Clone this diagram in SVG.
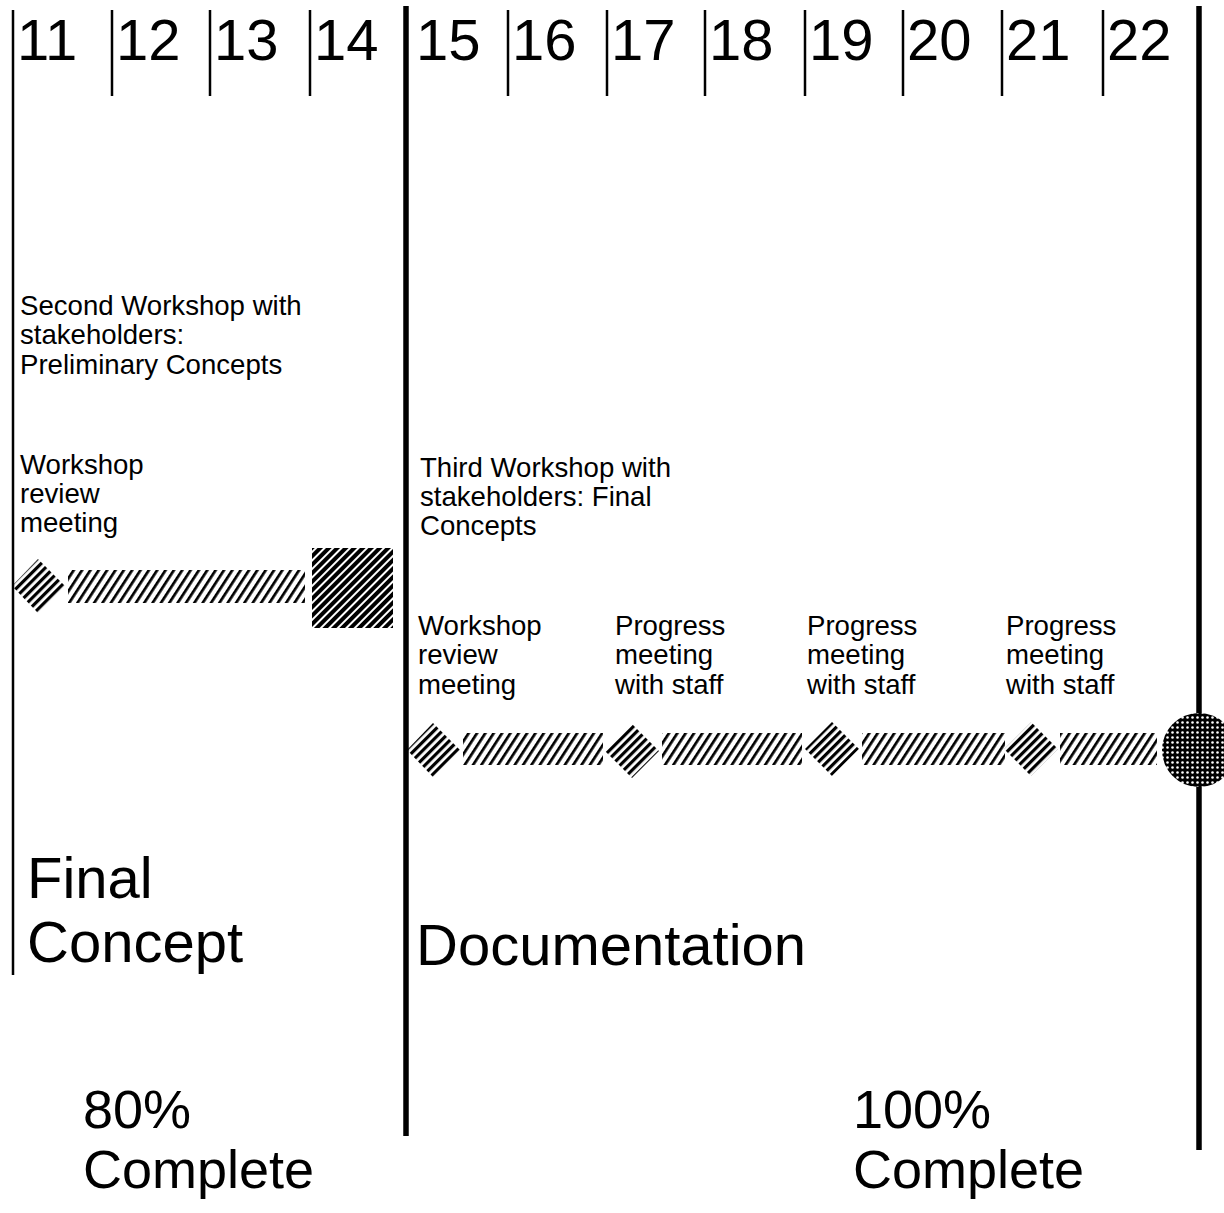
<svg xmlns="http://www.w3.org/2000/svg" width="1224" height="1213" viewBox="0 0 1224 1213">
<defs>
<style>
.t{font-family:"Liberation Sans",Arial,Helvetica,sans-serif;fill:#000}
.num{font-size:58px}
.sm{font-size:27.6px}
.big{font-size:58px}
.pct{font-size:54px}
.tick{stroke:#000;stroke-width:2.5}
.thick{stroke:#000;stroke-width:5.5}
</style>
<pattern id="hBar" width="7" height="8" patternUnits="userSpaceOnUse" patternTransform="rotate(33)">
<rect x="0" y="0" width="2.7" height="8" fill="#000"/>
</pattern>
<pattern id="hDia" width="6" height="6" patternUnits="userSpaceOnUse" patternTransform="rotate(45)">
<rect x="0" y="0" width="3.2" height="6" fill="#000"/>
</pattern>
<pattern id="hSq" width="6" height="6" patternUnits="userSpaceOnUse" patternTransform="rotate(45)">
<rect x="0" y="0" width="4" height="6" fill="#000"/>
</pattern>
<pattern id="dots" width="5" height="5" patternUnits="userSpaceOnUse">
<rect width="5" height="5" fill="#000"/>
<circle cx="2.5" cy="2.5" r="1.3" fill="#fff"/>
</pattern>
</defs>
<rect width="1224" height="1213" fill="#fff"/>

<g id="grid">
<line class="tick" x1="13" y1="10" x2="13" y2="975"/>
<line class="tick" x1="112" y1="10" x2="112" y2="96"/>
<line class="tick" x1="210" y1="10" x2="210" y2="96"/>
<line class="tick" x1="310" y1="10" x2="310" y2="96"/>
<line class="thick" x1="406" y1="6" x2="406" y2="1136"/>
<line class="tick" x1="508" y1="10" x2="508" y2="96"/>
<line class="tick" x1="607" y1="10" x2="607" y2="96"/>
<line class="tick" x1="705" y1="10" x2="705" y2="96"/>
<line class="tick" x1="805" y1="10" x2="805" y2="96"/>
<line class="tick" x1="903" y1="10" x2="903" y2="96"/>
<line class="tick" x1="1002" y1="10" x2="1002" y2="96"/>
<line class="tick" x1="1103" y1="10" x2="1103" y2="96"/>
<line class="thick" x1="1199" y1="6" x2="1199" y2="1150"/>
</g>

<g id="weeks">
<text class="t num" x="17" y="60">11</text>
<text class="t num" x="116" y="60">12</text>
<text class="t num" x="214" y="60">13</text>
<text class="t num" x="314" y="60">14</text>
<text class="t num" x="416" y="60">15</text>
<text class="t num" x="512" y="60">16</text>
<text class="t num" x="611" y="60">17</text>
<text class="t num" x="709" y="60">18</text>
<text class="t num" x="809" y="60">19</text>
<text class="t num" x="907" y="60">20</text>
<text class="t num" x="1006" y="60">21</text>
<text class="t num" x="1107" y="60">22</text>
</g>

<g id="label-second-workshop">
<text class="t sm" x="20" y="315">Second Workshop with</text>
<text class="t sm" x="20" y="344">stakeholders:</text>
<text class="t sm" x="20" y="374">Preliminary Concepts</text>
</g>
<g id="label-review-1">
<text class="t sm" x="20" y="474">Workshop</text>
<text class="t sm" x="20" y="503">review</text>
<text class="t sm" x="20" y="532">meeting</text>
</g>
<g id="label-third-workshop">
<text class="t sm" x="420" y="477">Third Workshop with</text>
<text class="t sm" x="420" y="506">stakeholders: Final</text>
<text class="t sm" x="420" y="535">Concepts</text>
</g>
<g id="label-review-2">
<text class="t sm" x="418" y="635">Workshop</text>
<text class="t sm" x="418" y="664">review</text>
<text class="t sm" x="418" y="694">meeting</text>
</g>
<g id="label-progress-1">
<text class="t sm" x="615" y="635">Progress</text>
<text class="t sm" x="615" y="664">meeting</text>
<text class="t sm" x="615" y="694">with staff</text>
</g>
<g id="label-progress-2">
<text class="t sm" x="807" y="635">Progress</text>
<text class="t sm" x="807" y="664">meeting</text>
<text class="t sm" x="807" y="694">with staff</text>
</g>
<g id="label-progress-3">
<text class="t sm" x="1006" y="635">Progress</text>
<text class="t sm" x="1006" y="664">meeting</text>
<text class="t sm" x="1006" y="694">with staff</text>
</g>

<g id="connectors">
<rect x="68" y="570" width="237" height="33" fill="url(#hBar)"/>
<rect x="463" y="733" width="140" height="32" fill="url(#hBar)"/>
<rect x="662" y="733" width="140" height="32" fill="url(#hBar)"/>
<rect x="862" y="733" width="143" height="32" fill="url(#hBar)"/>
<rect x="1060" y="733" width="97" height="32" fill="url(#hBar)"/>
</g>

<g id="milestone-review-1"><polygon points="12,586 38,559 65,586 38,613" fill="url(#hDia)"/></g>
<g id="milestone-final-concept"><rect x="312" y="548" width="81" height="80" fill="url(#hSq)"/></g>
<g id="milestone-review-2"><polygon points="407,750 433,723 460,750 433,777" fill="url(#hDia)"/></g>
<g id="milestone-progress-1"><polygon points="605,751 632,724 659,751 632,778" fill="url(#hDia)"/></g>
<g id="milestone-progress-2"><polygon points="805,749 832,722 859,749 832,776" fill="url(#hDia)"/></g>
<g id="milestone-progress-3"><polygon points="1004,749 1031,722 1058,749 1031,776" fill="url(#hDia)"/></g>
<g id="milestone-complete"><circle cx="1199" cy="750" r="37" fill="url(#dots)"/></g>

<g id="phase-final-concept">
<text class="t big" x="27" y="898">Final</text>
<text class="t big" x="27" y="962">Concept</text>
</g>
<g id="phase-documentation">
<text class="t big" x="416" y="965">Documentation</text>
</g>
<g id="status-80">
<text class="t pct" x="83" y="1128">80%</text>
<text class="t pct" x="83" y="1188">Complete</text>
</g>
<g id="status-100">
<text class="t pct" x="853" y="1128">100%</text>
<text class="t pct" x="853" y="1188">Complete</text>
</g>
</svg>
